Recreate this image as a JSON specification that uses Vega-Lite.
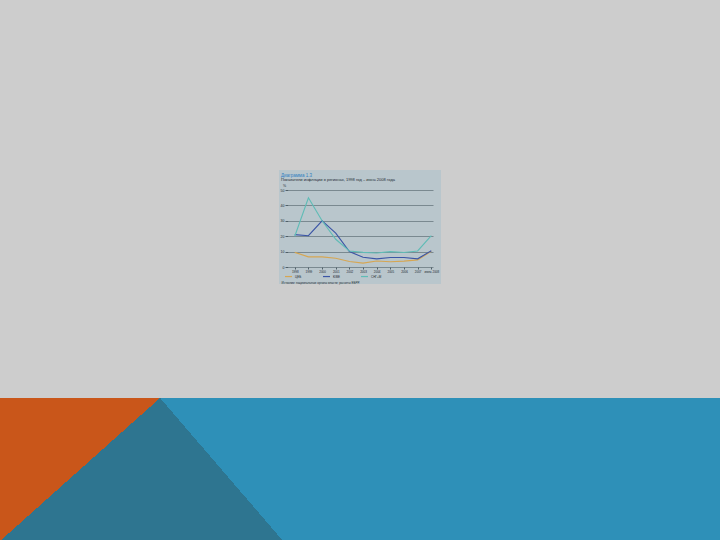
{
  "$schema": "https://vega.github.io/schema/vega-lite/v6.json",
  "background": "#cdcdcd",
  "padding": {"top": 170, "left": 0, "right": 0, "bottom": 0},
  "autosize": {"type": "pad"},
  "spacing": 114,
  "center": true,
  "resolve": {"legend": {"color": "independent"}, "scale": {"color": "independent"}},
  "config": {"font": "Liberation Sans", "view": {"stroke": null}},
  "vconcat": [
    {
      "width": 162,
      "height": 114,
      "view": {"fill": "#b9c6cc", "stroke": null},
      "title": {
        "text": "Диаграмма 1.3",
        "subtitle": "Показатели инфляции в регионах, 1998 год – июнь 2008 года",
        "anchor": "start",
        "frame": "group",
        "offset": -12,
        "dx": 2,
        "fontSize": 4.5,
        "fontWeight": "normal",
        "color": "#2f7fc1",
        "subtitleFontSize": 4,
        "subtitleColor": "#1e2a33",
        "subtitlePadding": 1
      },
      "data": {
        "values": [
          {"period": "1998", "region": "ЦЕБ", "value": 9.5},
          {"period": "1999", "region": "ЦЕБ", "value": 6.6},
          {"period": "2000", "region": "ЦЕБ", "value": 6.6},
          {"period": "2001", "region": "ЦЕБ", "value": 5.7},
          {"period": "2002", "region": "ЦЕБ", "value": 3.6},
          {"period": "2003", "region": "ЦЕБ", "value": 2.5},
          {"period": "2004", "region": "ЦЕБ", "value": 3.9},
          {"period": "2005", "region": "ЦЕБ", "value": 3.4},
          {"period": "2006", "region": "ЦЕБ", "value": 3.8},
          {"period": "2007", "region": "ЦЕБ", "value": 4.6},
          {"period": "июнь 2008", "region": "ЦЕБ", "value": 10.2},
          {"period": "1998", "region": "ЮВЕ", "value": 21},
          {"period": "1999", "region": "ЮВЕ", "value": 20.3},
          {"period": "2000", "region": "ЮВЕ", "value": 30},
          {"period": "2001", "region": "ЮВЕ", "value": 22},
          {"period": "2002", "region": "ЮВЕ", "value": 10},
          {"period": "2003", "region": "ЮВЕ", "value": 6.3},
          {"period": "2004", "region": "ЮВЕ", "value": 5.3},
          {"period": "2005", "region": "ЮВЕ", "value": 6.2},
          {"period": "2006", "region": "ЮВЕ", "value": 6.2},
          {"period": "2007", "region": "ЮВЕ", "value": 5.3},
          {"period": "июнь 2008", "region": "ЮВЕ", "value": 10.6},
          {"period": "1998", "region": "СНГ+М", "value": 20},
          {"period": "1999", "region": "СНГ+М", "value": 45},
          {"period": "2000", "region": "СНГ+М", "value": 30},
          {"period": "2001", "region": "СНГ+М", "value": 18},
          {"period": "2002", "region": "СНГ+М", "value": 10.4},
          {"period": "2003", "region": "СНГ+М", "value": 9.5},
          {"period": "2004", "region": "СНГ+М", "value": 9.1},
          {"period": "2005", "region": "СНГ+М", "value": 10},
          {"period": "2006", "region": "СНГ+М", "value": 9.4},
          {"period": "2007", "region": "СНГ+М", "value": 10.4},
          {"period": "июнь 2008", "region": "СНГ+М", "value": 20.4}
        ]
      },
      "mark": {"type": "line", "strokeWidth": 1.1},
      "encoding": {
        "x": {
          "field": "period",
          "type": "ordinal",
          "sort": null,
          "scale": {"type": "point", "range": [9, 154], "padding": 0.31, "align": 0.8},
          "axis": {
            "orient": "bottom",
            "offset": -17,
            "title": "Источник: национальные органы власти; расчеты ЕБРР.",
            "titleFontSize": 3,
            "titleFontWeight": "normal",
            "titleX": 2,
            "titleAlign": "left",
            "titlePadding": 8,
            "titleColor": "#1e2a33",
            "labelFontSize": 3,
            "labelAngle": 0,
            "labelColor": "#1e2a33",
            "labelPadding": 1,
            "tickSize": 2,
            "tickColor": "#4f5f68",
            "domain": false,
            "grid": false
          }
        },
        "y": {
          "field": "value",
          "type": "quantitative",
          "scale": {"domain": [0, 50], "range": [97, 20]},
          "axis": {
            "offset": -9,
            "values": [0, 10, 20, 30, 40, 50],
            "grid": true,
            "gridColor": "#4f5f68",
            "gridWidth": 0.6,
            "domain": false,
            "tickSize": 3,
            "tickColor": "#4f5f68",
            "labelFontSize": 3.5,
            "labelColor": "#1e2a33",
            "labelPadding": 1,
            "title": "%",
            "titleAngle": 0,
            "titleX": -4,
            "titleY": 17,
            "titleFontSize": 3.5,
            "titleFontWeight": "normal",
            "titleColor": "#1e2a33",
            "titleAlign": "center",
            "titleBaseline": "bottom"
          }
        },
        "color": {
          "field": "region",
          "type": "nominal",
          "scale": {"domain": ["ЦЕБ", "ЮВЕ", "СНГ+М"], "range": ["#d6a652", "#3b55a6", "#5fbcb6"]},
          "legend": {
            "title": null,
            "orient": "bottom-left",
            "offset": 5,
            "direction": "horizontal",
            "columns": 3,
            "gridAlign": "all",
            "columnPadding": 14,
            "symbolType": "stroke",
            "symbolSize": 49,
            "symbolStrokeWidth": 1.2,
            "labelFontSize": 3,
            "labelColor": "#1e2a33",
            "labelOffset": 2,
            "padding": 0
          }
        }
      }
    },
    {
      "width": 720,
      "height": 143,
      "view": {"stroke": null},
      "data": {"values": [{"part": "фон"}]},
      "layer": [
        {
          "mark": {
            "type": "rect",
            "fill": {
              "gradient": "linear",
              "x1": 0, "y1": 1, "x2": 1, "y2": 0.8292,
              "stops": [
                {"offset": 0, "color": "#2e7590"},
                {"offset": 0.382, "color": "#2e7590"},
                {"offset": 0.382, "color": "#2e90b8"},
                {"offset": 1, "color": "#2e90b8"}
              ]
            }
          },
          "encoding": {}
        },
        {
          "mark": {
            "type": "rect",
            "fill": {
              "gradient": "linear",
              "x1": 0, "y1": 0, "x2": 1, "y2": 0.2222,
              "stops": [
                {"offset": 0, "color": "#c9561a"},
                {"offset": 0.2118, "color": "#c9561a"},
                {"offset": 0.2118, "color": "rgba(201,86,26,0)"},
                {"offset": 1, "color": "rgba(201,86,26,0)"}
              ]
            }
          },
          "encoding": {}
        }
      ]
    }
  ]
}
